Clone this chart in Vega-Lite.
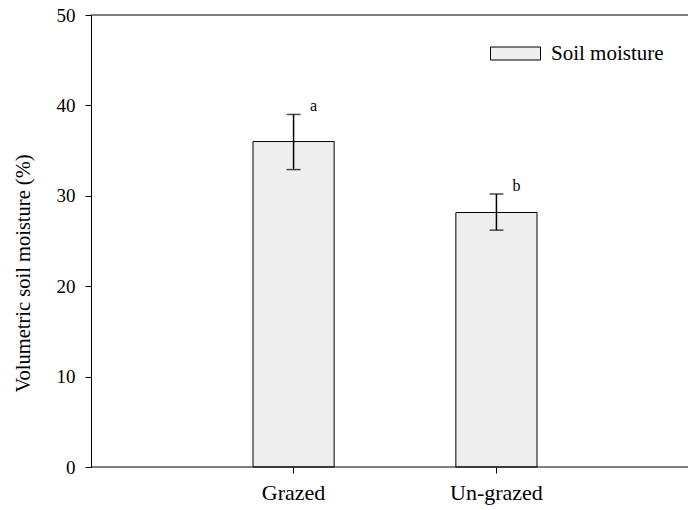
{
  "$schema": "https://vega.github.io/schema/vega-lite/v6.json",
  "autosize": {"type": "none"},
  "padding": {"left": 91, "top": 15, "right": 0, "bottom": 43},
  "width": 597,
  "height": 452,
  "background": "white",
  "config": {
    "view": {"stroke": null},
    "font": "Liberation Serif",
    "axis": {"grid": false, "domainColor": "black", "tickColor": "black", "labelColor": "black", "titleColor": "black", "labelFont": "Liberation Serif", "titleFont": "Liberation Serif", "titleFontWeight": "normal"}
  },
  "data": {
    "values": [
      {"treatment": "Grazed", "moisture": 36.0, "lower": 32.9, "upper": 39.0, "letter": "a", "series": "Soil moisture"},
      {"treatment": "Un-grazed", "moisture": 28.15, "lower": 26.2, "upper": 30.2, "letter": "b", "series": "Soil moisture"}
    ]
  },
  "encoding": {
    "x": {
      "field": "treatment",
      "type": "nominal",
      "sort": null,
      "scale": {"domain": ["Grazed", "Un-grazed"], "range": [162, 446], "paddingInner": 0.6, "paddingOuter": 0},
      "axis": {"title": null, "domain": false, "labelAngle": 0, "labelFontSize": 22, "labelPadding": 9, "tickSize": 6, "tickWidth": 1}
    }
  },
  "layer": [
    {
      "mark": {"type": "bar", "stroke": "black", "strokeWidth": 1},
      "encoding": {
        "y": {
          "field": "moisture",
          "type": "quantitative",
          "scale": {"domain": [0, 50], "nice": false},
          "axis": {"title": "Volumetric soil moisture (%)", "values": [0, 10, 20, 30, 40, 50], "tickSize": 6, "tickWidth": 1, "domainWidth": 1, "labelFontSize": 19, "labelPadding": 10, "titleFontSize": 20.5, "titlePadding": 23, "titleY": 258}
        },
        "fill": {
          "field": "series",
          "type": "nominal",
          "scale": {"range": ["#eeeeee"]},
          "legend": {
            "title": null,
            "orient": "none",
            "legendX": 399,
            "legendY": 13,
            "padding": 0,
            "symbolType": "M-1,-0.26L1,-0.26L1,0.26L-1,0.26Z",
            "symbolSize": 2500,
            "symbolStrokeColor": "black",
            "symbolStrokeWidth": 1,
            "symbolOpacity": 1,
            "labelFont": "Liberation Serif",
            "labelFontSize": 21,
            "labelColor": "black",
            "labelOffset": 10
          }
        }
      }
    },
    {
      "mark": {"type": "rule", "color": "black", "strokeWidth": 1.5},
      "encoding": {
        "y": {"field": "lower", "type": "quantitative"},
        "y2": {"field": "upper"}
      }
    },
    {
      "mark": {"type": "tick", "color": "black", "size": 14, "thickness": 1.5, "orient": "horizontal"},
      "encoding": {"y": {"field": "upper", "type": "quantitative"}}
    },
    {
      "mark": {"type": "tick", "color": "black", "size": 14, "thickness": 1.5, "orient": "horizontal"},
      "encoding": {"y": {"field": "lower", "type": "quantitative"}}
    },
    {
      "mark": {"type": "text", "font": "Liberation Serif", "fontSize": 16, "color": "black", "align": "center", "baseline": "alphabetic", "dx": 20, "dy": -3},
      "encoding": {
        "y": {"field": "upper", "type": "quantitative"},
        "text": {"field": "letter"}
      }
    },
    {
      "data": {"values": [{"edge": 0}, {"edge": 50}]},
      "mark": {"type": "rule", "color": "black", "strokeWidth": 1},
      "encoding": {
        "x": null,
        "y": {"field": "edge", "type": "quantitative"}
      }
    }
  ]
}
